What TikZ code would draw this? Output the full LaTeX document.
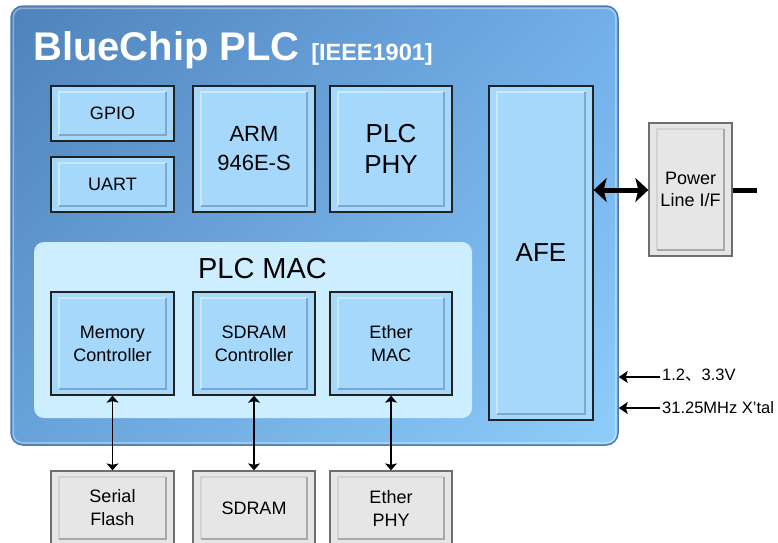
\documentclass[tikz,border=0pt]{standalone}
\usepackage{fontspec}
\setmainfont{Liberation Sans}
\newfontfamily\cjk{Noto Sans CJK SC}
\usetikzlibrary{arrows.meta,shadings}
\definecolor{boxfill}{HTML}{A6D8FC}
\definecolor{boxline}{HTML}{222222}
\definecolor{boxlight}{HTML}{C6E9FF}
\definecolor{boxdark}{HTML}{7EA7CC}
\definecolor{gfill}{HTML}{E6E6E6}
\definecolor{gline}{HTML}{6E6E6E}
\definecolor{glight}{HTML}{D2D2D2}
\definecolor{gdark}{HTML}{A8A8A8}
\definecolor{panelfill}{HTML}{CDEEFE}
\definecolor{chipUL}{HTML}{4F82BA}
\definecolor{chipUR}{HTML}{72AEE9}
\definecolor{chipLL}{HTML}{67A2DA}
\definecolor{chipLR}{HTML}{8ECDFB}
\definecolor{chipedge}{HTML}{4C7EB4}
\begin{document}
\begin{tikzpicture}[x=1pt,y=-1pt,
  fs/.style 2 args={font=\fontsize{#1}{#2}\selectfont},
  bevel/.style 2 args={path picture={
    \coordinate (bvA) at ([shift={(8pt,-6pt)}]path picture bounding box.north west);
    \coordinate (bvB) at ([shift={(-8pt,6pt)}]path picture bounding box.south east);
    \draw[#1, line width=1.5pt] (bvA |- bvB) -- (bvA) -- (bvB |- bvA);
    \draw[#2, line width=1.5pt] (bvB |- bvA) -- (bvB) -- (bvA |- bvB);}},
  blk/.style={draw=boxline, line width=1.3pt, fill=boxfill, inner sep=0pt, align=center, bevel={boxlight}{boxdark}},
  gblk/.style={draw=gline, line width=1.3pt, fill=gfill, inner sep=0pt, align=center, bevel={glight}{gdark}},
  thin arrow/.style={line width=1.3pt, {Stealth[length=7pt,width=12pt,inset=1.5pt]}-{Stealth[length=7pt,width=12pt,inset=1.5pt]}},
  in arrow/.style={line width=1.3pt, -{Stealth[length=9pt,width=12pt,inset=2pt]}},
  thick arrow/.style={line width=5pt, {Stealth[length=13pt,width=24pt,inset=3pt]}-{Stealth[length=13pt,width=24pt,inset=3pt]}},
  lbl/.style={fs={16.5}{20}, anchor=west, inner sep=0pt}
]
\useasboundingbox (0,0) rectangle (778,542);
% chip
\node[draw=chipedge, line width=1.5pt, rounded corners=12pt, minimum width=607pt, minimum height=439pt,
  upper left=chipUL, upper right=chipUR, lower left=chipLL, lower right=chipLR, inner sep=0pt] (chip) at (314.5,225.5) {};
\draw[white, opacity=.35, line width=1.5pt, rounded corners=9pt] ([shift={(3pt,-3pt)}]chip.north west) rectangle ([shift={(-3pt,3pt)}]chip.south east);
\node[text=white, font=\bfseries\fontsize{40}{40}\selectfont, anchor=base west, inner sep=0pt] (title) at (33,60) {BlueChip PLC};
\node[text=white, font=\bfseries\fontsize{23.5}{23.5}\selectfont, anchor=base west, inner sep=0pt] (std) at ([xshift=11pt]title.base east) {[IEEE1901]};
% MAC panel
\node[fill=panelfill, rounded corners=10pt, minimum width=438pt, minimum height=176pt, inner sep=0pt] (mac) at (253,330) {};
\node[fs={29}{29}, anchor=base, inner sep=0pt] (maclbl) at (262.5,278) {PLC MAC};
% blocks
\node[blk, minimum width=123pt, minimum height=55pt, fs={18}{22}] (gpio) at (112.5,113.5) {GPIO};
\node[blk, minimum width=123pt, minimum height=55pt, fs={18}{22}] (uart) at (112.5,184.5) {UART};
\node[blk, minimum width=122pt, minimum height=126pt, fs={22}{29}] (arm) at (254,149) {ARM\\946E-S};
\node[blk, minimum width=122pt, minimum height=126pt, fs={26}{31}] (phy) at (391,149) {PLC\\PHY};
\node[blk, minimum width=104pt, minimum height=334pt, fs={26}{31}] (afe) at (541,253) {AFE};
\node[blk, minimum width=123pt, minimum height=103pt, fs={18}{23}] (memc) at (112.5,343.5) {Memory\\Controller};
\node[blk, minimum width=122pt, minimum height=103pt, fs={18}{23}] (sdc) at (254,343.5) {SDRAM\\Controller};
\node[blk, minimum width=122pt, minimum height=103pt, fs={18}{23}] (emac) at (391,343.5) {Ether\\MAC};
% external blocks
\node[gblk, minimum width=123pt, minimum height=74pt, fs={18}{23}] (flash) at (112.5,508) {Serial\\Flash};
\node[gblk, minimum width=122pt, minimum height=74pt, fs={18}{23}] (sdram) at (254,508) {SDRAM};
\node[gblk, minimum width=122pt, minimum height=74pt, fs={18}{23}] (ephy) at (391,508) {Ether\\PHY};
\node[gblk, minimum width=83pt, minimum height=133pt, fs={18}{22}] (pli) at (690.5,189.5) {Power\\Line I/F};
% connectors
\draw[thin arrow] (memc.south) -- (flash.north);
\draw[thin arrow] (sdc.south) -- (sdram.north);
\draw[thin arrow] (emac.south) -- (ephy.north);
\coordinate (pa) at (593,190);
\draw[thick arrow] (afe.east |- pa) -- (pli.west |- pa);
\coordinate (pend) at (757,190);
\draw[line width=5pt] (pli.east |- pend) -- (pend);
\coordinate (v1) at (660,377);
\coordinate (v2) at (660,408);
\draw[in arrow] (v1) -- (chip.east |- v1);
\draw[in arrow] (v2) -- (chip.east |- v2);
\node[lbl] (l1) at (662,375) {1.2{\cjk 、}3.3V};
\node[lbl] (l2) at (662,408) {31.25MHz X’tal};
\end{tikzpicture}
\end{document}
